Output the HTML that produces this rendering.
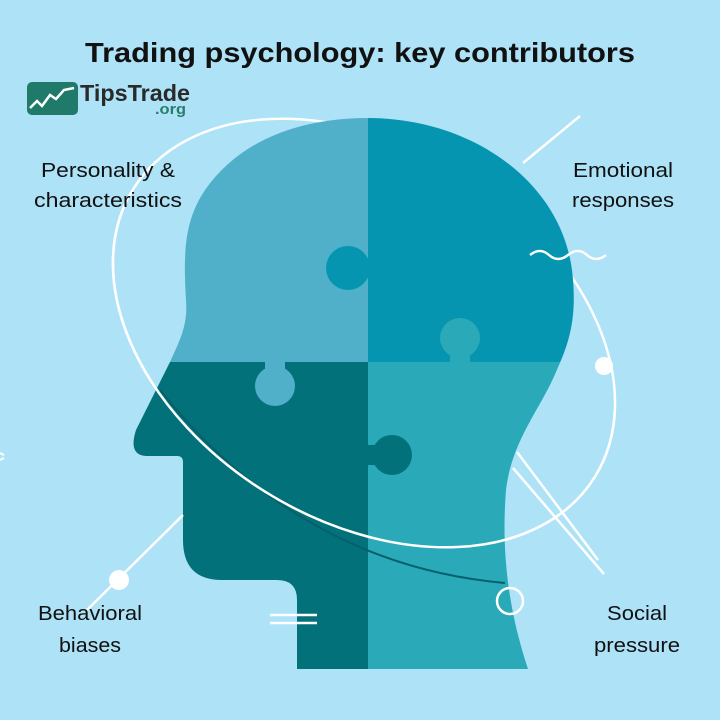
<!DOCTYPE html>
<html><head><meta charset="utf-8"><style>
html,body{margin:0;padding:0;background:#ade2f7;}
svg{display:block;}
text{font-family:"Liberation Sans",sans-serif;}
</style></head><body>
<svg width="720" height="720" viewBox="0 0 720 720" xmlns="http://www.w3.org/2000/svg">
<defs>
<clipPath id="head"><path d="M368,118 C470,118 560,180 572,270 C578,320 568,345 556,372 C540,410 512,440 506,490 C502,540 505,600 528,669 L297,669 L297,600 Q297,580 277,580 L222,580 Q183,580 183,540 L183,462 Q183,456 177,456 L146,456 Q128,455 136,430 L170,362 C180,340 188,325 186,300 C183,250 185,220 205,190 C240,140 300,118 368,118 Z"/></clipPath>
<clipPath id="front"><polygon points="0,362 150,358 580,268 720,268 720,720 0,720"/></clipPath>
</defs>
<rect width="720" height="720" fill="#ade2f7"/>
<ellipse cx="364" cy="333" rx="272" ry="187" transform="rotate(32 364 333)" fill="none" stroke="#fff" stroke-width="2.5"/>
<g clip-path="url(#head)">
<rect x="0" y="0" width="368" height="362" fill="#50b0c9"/>
<rect x="368" y="0" width="352" height="362" fill="#0595b0"/>
<rect x="0" y="362" width="368" height="358" fill="#037179"/>
<rect x="368" y="362" width="352" height="358" fill="#2aa9b9"/>
<circle cx="348" cy="268" r="22" fill="#0595b0"/><rect x="360" y="258" width="10" height="20" fill="#0595b0"/>
<circle cx="275" cy="386" r="20" fill="#50b0c9"/><rect x="265" y="358" width="20" height="14" fill="#50b0c9"/>
<circle cx="460" cy="338" r="20" fill="#2aa9b9"/><rect x="450" y="350" width="20" height="14" fill="#2aa9b9"/>
<circle cx="392" cy="455" r="20" fill="#037179"/><rect x="364" y="445" width="16" height="20" fill="#037179"/>
<path d="M160,390 Q300,565 505,583" fill="none" stroke="#05606a" stroke-width="2"/>
</g>
<ellipse clip-path="url(#front)" cx="364" cy="333" rx="272" ry="187" transform="rotate(32 364 333)" fill="none" stroke="#fff" stroke-width="2.5"/>
<line x1="523" y1="163" x2="580" y2="116" stroke="#fff" stroke-width="2.5"/>
<path d="M530,255 q10,-8 19,0 t19,0 t19,0 t19,0" fill="none" stroke="#fff" stroke-width="2.5"/>
<circle cx="604" cy="366" r="9" fill="#fff"/>
<line x1="517" y1="452" x2="598" y2="560" stroke="#fff" stroke-width="2.5"/>
<line x1="513" y1="468" x2="604" y2="574" stroke="#fff" stroke-width="2.5"/>
<circle cx="510" cy="601" r="13" fill="none" stroke="#fff" stroke-width="2.5"/>
<line x1="183" y1="515" x2="87" y2="610" stroke="#fff" stroke-width="2.5"/>
<circle cx="119" cy="580" r="10" fill="#fff"/>
<line x1="270" y1="615" x2="317" y2="615" stroke="#fff" stroke-width="2.5"/>
<line x1="270" y1="623" x2="317" y2="623" stroke="#fff" stroke-width="2.5"/>
<line x1="0" y1="453" x2="4" y2="455" stroke="#fff" stroke-width="2"/>
<line x1="0" y1="460" x2="4" y2="458" stroke="#fff" stroke-width="2"/>
<rect x="27" y="82" width="51" height="33" rx="5" fill="#1f7a69"/>
<polyline points="30,108 37,101 42,106 50,95 56,99 64,90 74,88" fill="none" stroke="#fff" stroke-width="2.5"/>
<text x="80" y="101" font-size="23" font-weight="bold" fill="#2a2a2a" textLength="110" lengthAdjust="spacingAndGlyphs">TipsTrade</text>
<text x="155" y="114" font-size="15" font-weight="bold" fill="#2a7d6b" textLength="31" lengthAdjust="spacingAndGlyphs">.org</text>
<text x="360" y="62" text-anchor="middle" font-size="28" font-weight="bold" fill="#111" textLength="550" lengthAdjust="spacingAndGlyphs">Trading psychology: key contributors</text>
<g font-size="20" fill="#111" text-anchor="middle">
<text x="108" y="177" textLength="134" lengthAdjust="spacingAndGlyphs">Personality &amp;</text>
<text x="108" y="207" textLength="148" lengthAdjust="spacingAndGlyphs">characteristics</text>
<text x="623" y="177" textLength="100" lengthAdjust="spacingAndGlyphs">Emotional</text>
<text x="623" y="207" textLength="102" lengthAdjust="spacingAndGlyphs">responses</text>
<text x="90" y="620" textLength="104" lengthAdjust="spacingAndGlyphs">Behavioral</text>
<text x="90" y="652" textLength="62" lengthAdjust="spacingAndGlyphs">biases</text>
<text x="637" y="620" textLength="60" lengthAdjust="spacingAndGlyphs">Social</text>
<text x="637" y="652" textLength="86" lengthAdjust="spacingAndGlyphs">pressure</text>
</g>
</svg>
</body></html>
